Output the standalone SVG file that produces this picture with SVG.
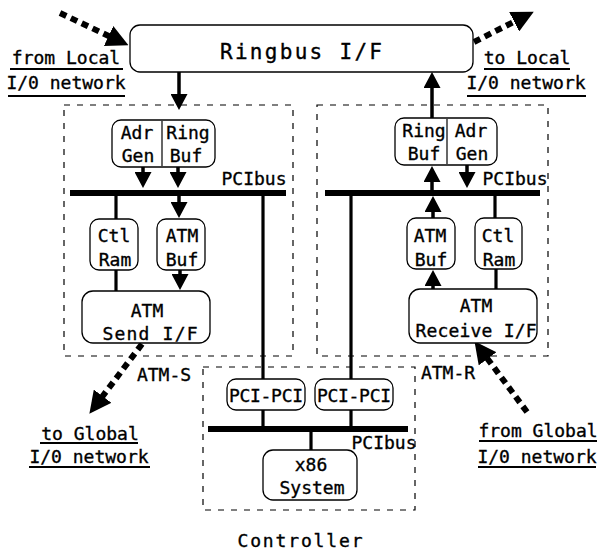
<svg xmlns="http://www.w3.org/2000/svg" width="600" height="554" viewBox="0 0 600 554">
<style>
text{font-family:"DejaVu Sans Mono","Liberation Mono",monospace;fill:#000;text-anchor:middle;stroke:#000;stroke-width:0.35}
.t{font-size:18px}
.l{font-size:18px}
.box{fill:#fff;stroke:#000;stroke-width:1.3}
.grp{fill:none;stroke:#000;stroke-width:1.2;stroke-dasharray:6 7}
.bus{stroke:#000;stroke-width:6;fill:none}
.wire{stroke:#000;stroke-width:3.2;fill:none}
.arr{stroke:#000;stroke-width:3.5;fill:none;marker-end:url(#ah)}
.ext{stroke:#000;stroke-width:6;fill:none;stroke-dasharray:7 5;marker-end:url(#bh)}
.ul{stroke:#000;stroke-width:1.8}
</style>
<defs>
<marker id="ah" viewBox="0 0 16 17" refX="6" refY="8.5" markerWidth="16" markerHeight="17" markerUnits="userSpaceOnUse" orient="auto">
<path d="M0,0 L16,8.5 L0,17 z" fill="#000"/>
</marker>
<marker id="bh" viewBox="0 0 22 22" refX="6" refY="11" markerWidth="22" markerHeight="22" markerUnits="userSpaceOnUse" orient="auto">
<path d="M0,0 L22,11 L0,22 z" fill="#000"/>
</marker>
</defs>

<!-- group containers -->
<g id="atm-s-group">
<rect class="grp" x="64" y="105" width="229" height="251"/>
<text class="l" x="164" y="381">ATM-S</text>
</g>
<g id="atm-r-group">
<rect class="grp" x="317" y="105" width="231" height="251"/>
<text class="l" x="448" y="379">ATM-R</text>
</g>
<g id="controller-group">
<rect class="grp" x="203" y="367" width="212" height="143"/>
<text class="l" x="300" y="547" textLength="125">Controller</text>
</g>

<!-- connectors -->
<g id="connectors">
<line class="bus" x1="70" y1="193" x2="286" y2="193"/>
<line class="bus" x1="325" y1="193" x2="540" y2="193"/>
<line class="bus" x1="208" y1="429" x2="408" y2="429"/>
<line class="arr" x1="179" y1="72" x2="179" y2="100"/>
<line class="arr" x1="143" y1="167" x2="143" y2="178"/>
<line class="arr" x1="178" y1="167" x2="178" y2="178"/>
<line class="arr" x1="179" y1="196" x2="179" y2="208"/>
<line class="wire" x1="116" y1="196" x2="116" y2="219"/>
<line class="wire" x1="116" y1="270" x2="116" y2="291"/>
<line class="arr" x1="180" y1="270" x2="180" y2="280"/>
<line class="wire" x1="263" y1="196" x2="263" y2="379"/>
<line class="arr" x1="432" y1="118" x2="432" y2="82"/>
<line class="arr" x1="432" y1="190" x2="432" y2="176"/>
<line class="arr" x1="467" y1="165" x2="467" y2="178"/>
<line class="arr" x1="433" y1="218" x2="433" y2="206"/>
<line class="wire" x1="495" y1="196" x2="495" y2="218"/>
<line class="wire" x1="496" y1="269" x2="496" y2="289"/>
<line class="arr" x1="433" y1="289" x2="433" y2="280"/>
<line class="wire" x1="351" y1="196" x2="351" y2="379"/>
<line class="wire" x1="263" y1="410" x2="263" y2="427"/>
<line class="wire" x1="351" y1="410" x2="351" y2="427"/>
<line class="wire" x1="311" y1="432" x2="311" y2="450"/>
<line class="ext" x1="60" y1="13" x2="114" y2="38.5"/>
<line class="ext" x1="474" y1="42" x2="519.5" y2="19"/>
<line class="ext" x1="142" y1="344" x2="99" y2="401"/>
<line class="ext" x1="527" y1="412" x2="484" y2="354"/>
</g>

<!-- nodes -->
<g id="ringbus-if">
<rect class="box" x="130" y="25" width="343" height="47" rx="10"/>
<text x="301" y="59" style="font-size:21px" textLength="162">Ringbus I/F</text>
</g>

<g id="from-local">
<text class="l" x="66" y="64">from Local</text>
<line class="ul" x1="10" y1="69" x2="123" y2="69"/>
<text class="l" x="66" y="89">I/0 network</text>
<line class="ul" x1="8" y1="96" x2="125" y2="96"/>
</g>

<g id="to-local">
<text class="l" x="527" y="64">to Local</text>
<line class="ul" x1="484" y1="69" x2="570" y2="69"/>
<text class="l" x="526" y="89">I/0 network</text>
<line class="ul" x1="467" y1="96" x2="586" y2="96"/>
</g>

<g id="s-adr-ring">
<rect class="box" x="112" y="120" width="103" height="47" rx="9"/>
<line stroke="#000" stroke-width="1.2" x1="162" y1="121" x2="162" y2="166"/>
<text class="t" x="137" y="139">Adr</text>
<text class="t" x="138" y="162">Gen</text>
<text class="t" x="188" y="139">Ring</text>
<text class="t" x="186" y="162">Buf</text>
</g>

<g id="s-pcibus-label"><text class="t" x="254" y="185">PCIbus</text></g>

<g id="s-ctl-ram">
<rect class="box" x="90" y="219" width="48" height="51" rx="9"/>
<text class="t" x="114" y="242">Ctl</text>
<text class="t" x="115" y="266">Ram</text>
</g>
<g id="s-atm-buf">
<rect class="box" x="157" y="219" width="48" height="51" rx="9"/>
<text class="t" x="182" y="242">ATM</text>
<text class="t" x="182" y="266">Buf</text>
</g>
<g id="atm-send">
<rect class="box" x="82" y="291" width="128" height="52" rx="11"/>
<text class="t" x="147" y="317">ATM</text>
<text class="t" x="150" y="340" textLength="95">Send I/F</text>
</g>

<g id="r-ring-adr">
<rect class="box" x="395" y="118" width="102" height="47" rx="9"/>
<line stroke="#000" stroke-width="1.2" x1="447" y1="119" x2="447" y2="164"/>
<text class="t" x="424" y="137">Ring</text>
<text class="t" x="424" y="160">Buf</text>
<text class="t" x="471" y="137">Adr</text>
<text class="t" x="472" y="160">Gen</text>
</g>

<g id="r-pcibus-label"><text class="t" x="515" y="185">PCIbus</text></g>

<g id="r-atm-buf">
<rect class="box" x="407" y="218" width="48" height="51" rx="9"/>
<text class="t" x="430" y="242">ATM</text>
<text class="t" x="431" y="266">Buf</text>
</g>
<g id="r-ctl-ram">
<rect class="box" x="475" y="218" width="47" height="51" rx="9"/>
<text class="t" x="498" y="242">Ctl</text>
<text class="t" x="499" y="266">Ram</text>
</g>
<g id="atm-receive">
<rect class="box" x="409" y="289" width="128" height="54" rx="11"/>
<text class="t" x="476" y="312">ATM</text>
<text class="t" x="476" y="337" textLength="121">Receive I/F</text>
</g>

<g id="to-global">
<text class="l" x="90" y="440">to Global</text>
<line class="ul" x1="40" y1="443" x2="138" y2="443"/>
<text class="l" x="89" y="463">I/0 network</text>
<line class="ul" x1="29" y1="467" x2="150" y2="467"/>
</g>

<g id="from-global">
<text class="l" x="538" y="437">from Global</text>
<line class="ul" x1="479" y1="441" x2="597" y2="441"/>
<text class="l" x="537" y="463">I/0 network</text>
<line class="ul" x1="478" y1="467" x2="596" y2="467"/>
</g>

<g id="pci-pci-left">
<rect class="box" x="227" y="379" width="78" height="31" rx="9"/>
<text class="t" x="266" y="402" textLength="74">PCI-PCI</text>
</g>
<g id="pci-pci-right">
<rect class="box" x="315" y="379" width="78" height="31" rx="9"/>
<text class="t" x="354" y="402" textLength="74">PCI-PCI</text>
</g>
<g id="c-pcibus-label"><text class="t" x="384" y="449">PCIbus</text></g>
<g id="x86-system">
<rect class="box" x="263" y="450" width="94" height="50" rx="10"/>
<text class="t" x="311" y="471">x86</text>
<text class="t" x="312" y="494">System</text>
</g>
</svg>
